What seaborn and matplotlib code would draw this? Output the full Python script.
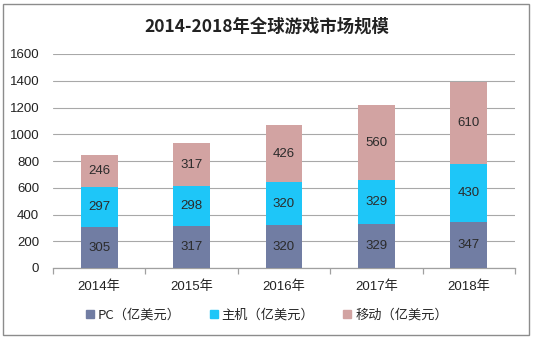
import matplotlib
matplotlib.use("Agg")
import matplotlib.pyplot as plt
import matplotlib.patches as mpatches
import seaborn as sns
import pandas as pd
import numpy as np

years = ["2014年", "2015年", "2016年", "2017年", "2018年"]
pc = [305, 317, 320, 329, 347]
console = [297, 298, 320, 329, 430]
mobile = [246, 317, 426, 560, 610]
series_names = ["PC（亿美元）", "主机（亿美元）", "移动（亿美元）"]
colors = ["#717DA3", "#1EC6F8", "#D2A3A2"]
yticks = [0, 200, 400, 600, 800, 1000, 1200, 1400, 1600]

sns.set_theme(style="white")
plt.rcParams['font.family'] = ['Liberation Sans', 'Noto Sans CJK SC', 'DejaVu Sans']

fig = plt.figure(figsize=(5.34, 3.38), dpi=100)
ax = fig.add_axes([53/534, 1-268/338, (515-53)/534, (268-54)/338])

df = pd.DataFrame({"year": years, "pc": pc, "console": console, "mobile": mobile})
df["lvl1"] = df["pc"]
df["lvl2"] = df["pc"] + df["console"]
df["lvl3"] = df["lvl2"] + df["mobile"]

for col, c in zip(["lvl3", "lvl2", "lvl1"], colors[::-1]):
    sns.barplot(data=df, x="year", y=col, color=c, width=0.4, ax=ax,
                saturation=1, edgecolor="none", linewidth=0, zorder=3)

# value labels
for i in range(len(years)):
    base = 0
    for vals in (pc, console, mobile):
        v = vals[i]
        ax.text(i, base + v / 2, str(v), ha="center", va="center",
                fontsize=9.5, color="#2b2b2b", zorder=5)
        base += v

ax.set_ylim(0, 1600)
ax.set_yticks(yticks)
ax.set_xlim(-0.5, 4.5)
ax.set_xlabel("")
ax.set_ylabel("")
ax.yaxis.grid(True, color="#A8A8A8", linewidth=0.8, zorder=0)
ax.set_axisbelow(True)
for s in ["top", "right", "left"]:
    ax.spines[s].set_visible(False)
ax.spines["bottom"].set_color("#A0A0A0")
ax.spines["bottom"].set_linewidth(0.9)

ax.tick_params(axis="y", length=0, pad=10, labelsize=9.5, labelcolor="#222222")
ax.tick_params(axis="x", which="major", length=0, pad=9, labelsize=9.5, labelcolor="#222222")
ax.set_xticks(np.arange(-0.5, 5.0, 1.0), minor=True)
ax.tick_params(axis="x", which="minor", length=4, color="#A0A0A0", width=0.9, bottom=True)

fig.text(267/534, 1-27/338, "2014-2018年全球游戏市场规模", ha="center", va="center",
         fontsize=12.5, fontweight="bold", color="#222222",
         family=["Noto Sans CJK SC", "DejaVu Sans"])

handles = [mpatches.Patch(color=c, label=n) for c, n in zip(colors, series_names)]
fig.legend(handles=handles, loc="center", bbox_to_anchor=(0.5, 1-315/338), ncol=3,
           frameon=False, fontsize=9.5, handlelength=0.6, handleheight=0.6,
           handletextpad=0.3, columnspacing=2.2,
           prop={"family": ["Noto Sans CJK SC", "DejaVu Sans"], "size": 9.5})

fig.add_artist(mpatches.Rectangle((3/534, 3/338), 526/534, 331/338, transform=fig.transFigure,
                                  fill=False, edgecolor="#8C8C8C", linewidth=1.0))

fig.savefig("out.png", dpi=100)
